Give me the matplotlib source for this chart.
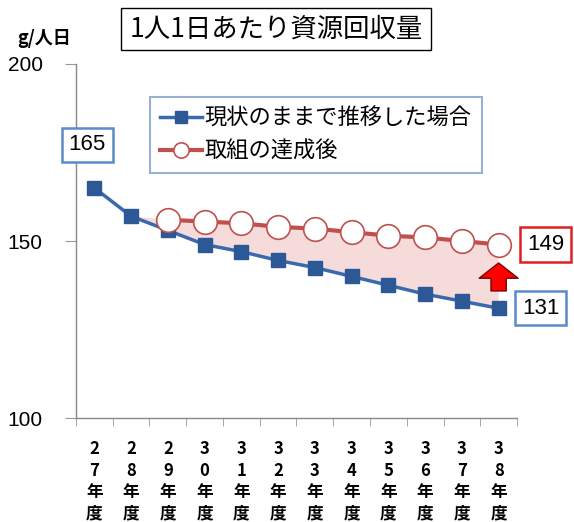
import matplotlib.pyplot as plt
from matplotlib.ticker import FixedLocator

plt.rcParams['font.family'] = ['Noto Sans CJK JP', 'DejaVu Sans']

years = ['27', '28', '29', '30', '31', '32', '33', '34', '35', '36', '37', '38']
current = [165, 157, 153, 149, 147, 144.5, 142.5, 140, 137.5, 135, 133, 131]
goal_start = 2
goal = [156, 155.5, 155, 154, 153.5, 152.5, 151.5, 151, 150, 149]

label_cur = '現状のままで推移した場合'
label_goal = '取組の達成後'
title = '1人1日あたり資源回収量'
unit = 'g/人日'

blue = '#3A69AE'
blue_mk = '#2C5896'
red = '#C0504D'
box_blue = '#5B8BC8'

xs = list(range(len(years)))
goal_x = list(range(goal_start, goal_start + len(goal)))

fig = plt.figure(figsize=(5.74, 5.22), dpi=100)
ax = fig.add_axes([0.1324, 0.1992, 0.7683, 0.6782])

# shaded gap between the two series
poly_x = [xs[goal_start - 1]] + goal_x + goal_x[::-1] + [xs[goal_start - 1]]
poly_y = [current[goal_start - 1]] + goal + current[goal_start:][::-1] + [current[goal_start - 1]]
ax.fill(poly_x, poly_y, color='#F5DCDA', lw=0, zorder=1)

ax.plot(xs, current, color=blue, lw=2.5, marker='s', ms=10,
        mfc=blue_mk, mec=blue_mk, label=label_cur, zorder=3)
ax.plot(goal_x, goal, color=red, lw=3, marker='o', ms=17,
        mfc='white', mec=red, mew=1.2, label=label_goal, zorder=4)

ax.set_xlim(-0.5, 11.5)
ax.set_ylim(100, 200)
ax.set_yticks([100, 150, 200])
ax.set_yticklabels(['100', '150', '200'], family='Liberation Sans', fontsize=15)
ax.set_xticks(xs)
ax.set_xticklabels(['\n'.join(list(y) + ['年', '度']) for y in years],
                   fontsize=12, linespacing=1.25, fontweight='bold')
ax.xaxis.set_minor_locator(FixedLocator([i - 0.5 for i in range(len(years) + 1)]))
ax.tick_params(axis='x', which='major', length=0, pad=16)
ax.tick_params(axis='x', which='minor', length=6, color='#999999', direction='out')
ax.tick_params(axis='y', length=8, color='#999999', pad=16)
for s in ['top', 'right']:
    ax.spines[s].set_visible(False)
for s in ['left', 'bottom']:
    ax.spines[s].set_color('#888888')
    ax.spines[s].set_linewidth(1)

leg = ax.legend(loc='upper left', bbox_to_anchor=(0.168, 0.907), borderaxespad=0,
                fontsize=16, frameon=True, fancybox=False, handlelength=1.9,
                handletextpad=0.1, borderpad=0.45, labelspacing=0.45)
leg.get_frame().set_edgecolor('#7F9DC6')
leg.get_frame().set_linewidth(1.5)
leg.legend_handles[0].set_markersize(9)
leg.legend_handles[1].set_markersize(11)

ax.annotate(str(current[0]), xy=(xs[0], current[0]), xytext=(-7, 43),
            textcoords='offset pixels', ha='center', va='center',
            family='Liberation Sans', fontsize=16,
            bbox=dict(boxstyle='square,pad=0.3', fc='white', ec=box_blue, lw=1.8))
ax.annotate(str(round(goal[-1])), xy=(goal_x[-1], goal[-1]), xytext=(47, 0),
            textcoords='offset pixels', ha='center', va='center',
            family='Liberation Sans', fontsize=16,
            bbox=dict(boxstyle='square,pad=0.3', fc='white', ec='#E02020', lw=1.8))
ax.annotate(str(current[-1]), xy=(xs[-1], current[-1]), xytext=(42, 0),
            textcoords='offset pixels', ha='center', va='center',
            family='Liberation Sans', fontsize=16,
            bbox=dict(boxstyle='square,pad=0.3', fc='white', ec=box_blue, lw=1.8))

# red arrow from the baseline end up to the goal end
ax.annotate('', xy=(xs[-1], goal[-1] - 5.2), xytext=(xs[-1], current[-1] + 4.9),
            arrowprops=dict(arrowstyle='simple,head_length=11,head_width=28,tail_width=11',
                            mutation_scale=1, fc='#FF0000', ec='#7A0000', lw=1,
                            shrinkA=0, shrinkB=0), zorder=5)

fig.text(276 / 574, 1 - 29 / 522, title, ha='center', va='center', fontsize=19,
         bbox=dict(boxstyle='square,pad=0.3', fc='white', ec='black', lw=1))
fig.text(44 / 574, 1 - 38 / 522, unit, ha='center', va='center', fontsize=13,
         fontweight='bold')

fig.savefig('out.png', dpi=100)
